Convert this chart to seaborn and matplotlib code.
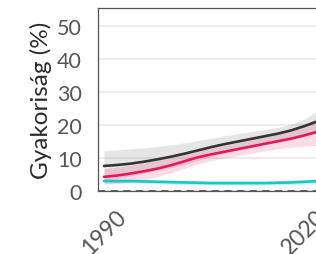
import numpy as np
import pandas as pd
import seaborn as sns
import matplotlib.pyplot as plt

years = [1990, 1992, 1994, 1996, 1998, 2000, 2002, 2004, 2006, 2008,
         2010, 2012, 2014, 2016, 2018, 2020, 2022]

total = [7.6, 7.9, 8.3, 8.9, 9.6, 10.4, 11.3, 12.3, 13.3, 14.2,
         15.0, 15.8, 16.6, 17.4, 18.4, 19.7, 21.2]
total_lo = [3.0, 3.8, 4.6, 5.4, 6.2, 7.0, 8.0, 9.2, 10.4, 11.4,
            12.4, 13.2, 14.0, 14.8, 15.6, 16.6, 17.6]
total_hi = [12.3, 12.5, 12.8, 13.1, 13.5, 14.0, 14.6, 15.3, 16.0, 16.7,
            17.4, 18.0, 18.6, 19.3, 20.2, 21.8, 24.5]

pink = [4.3, 4.7, 5.3, 6.0, 6.8, 7.8, 9.0, 10.2, 11.1, 11.9,
        12.7, 13.5, 14.3, 15.1, 15.9, 16.9, 18.0]
pink_lo = [2.0, 2.3, 2.8, 3.5, 4.4, 5.6, 6.9, 8.2, 9.2, 10.0,
           10.8, 11.5, 12.2, 12.8, 13.3, 13.6, 13.8]
pink_hi = [6.8, 7.2, 7.8, 8.5, 9.3, 10.1, 11.1, 12.2, 13.0, 13.8,
           14.6, 15.5, 16.4, 17.4, 18.5, 19.8, 21.5]

cyan = [3.0, 3.0, 3.0, 2.9, 2.8, 2.7, 2.6, 2.5, 2.4, 2.4,
        2.4, 2.4, 2.4, 2.5, 2.6, 2.8, 3.0]
cyan_lo = [2.4, 2.4, 2.4, 2.3, 2.2, 2.1, 2.0, 1.9, 1.8, 1.8,
           1.8, 1.8, 1.8, 1.9, 2.0, 2.1, 2.2]
cyan_hi = [3.6, 3.6, 3.6, 3.5, 3.4, 3.3, 3.2, 3.1, 3.0, 3.0,
           3.0, 3.0, 3.0, 3.1, 3.2, 3.5, 3.8]

y_ticks = [0, 10, 20, 30, 40, 50]
x_ticks = [1990, 2020]

sns.set_style("white")
plt.rcParams['font.family'] = ['Lato', 'DejaVu Sans']

fig = plt.figure(figsize=(3.16, 2.55), dpi=100)
ax = fig.add_axes([98 / 316, 63 / 255, 220 / 316, 183 / 255])

series = [
    (total, total_lo, total_hi, "#333333", "#9a9a9a", 0.25),
    (pink, pink_lo, pink_hi, "#e8175d", "#e8175d", 0.15),
    (cyan, cyan_lo, cyan_hi, "#19c6cc", "#19c6cc", 0.25),
]
for mid, lo, hi, col, band, a in series:
    ax.fill_between(years, lo, hi, color=band, alpha=a, lw=0)
for mid, lo, hi, col, band, a in series:
    df = pd.DataFrame({"year": years, "val": mid})
    sns.lineplot(data=df, x="year", y="val", color=col, lw=1.9, ax=ax)

ax.axhline(0, color="#555555", lw=1.3, ls=(0, (4, 3)), zorder=3)

ax.set_xlim(1989.1, 2022)
ax.set_ylim(0, 55.5)
ax.set_yticks(y_ticks)
ax.set_xticks(x_ticks)
ax.set_xticklabels([])
# rotated year labels, nudged right of the tick like the original
for x in x_ticks:
    ax.annotate(str(x), xy=(x, 0), xycoords=ax.get_xaxis_transform(),
                xytext=(11, -15), textcoords="offset pixels",
                rotation=45, ha="right", va="top", rotation_mode="anchor",
                fontsize=16.5, color="#555555", annotation_clip=False)
ax.grid(axis="y", color="#ececec", lw=1.5)
ax.set_axisbelow(True)
ax.set_xlabel("")
ax.set_ylabel("Gyakoriság (%)", fontsize=17.5, color="#2a2a2a", labelpad=4)

for s in ax.spines.values():
    s.set_color("#555555")
    s.set_linewidth(0.9)
ax.tick_params(axis="both", colors="#444444", labelsize=15.5, length=6.5,
               width=1.6, direction="out", pad=5)
ax.tick_params(axis="both", labelcolor="#555555")

fig.savefig("out.png", dpi=100)
